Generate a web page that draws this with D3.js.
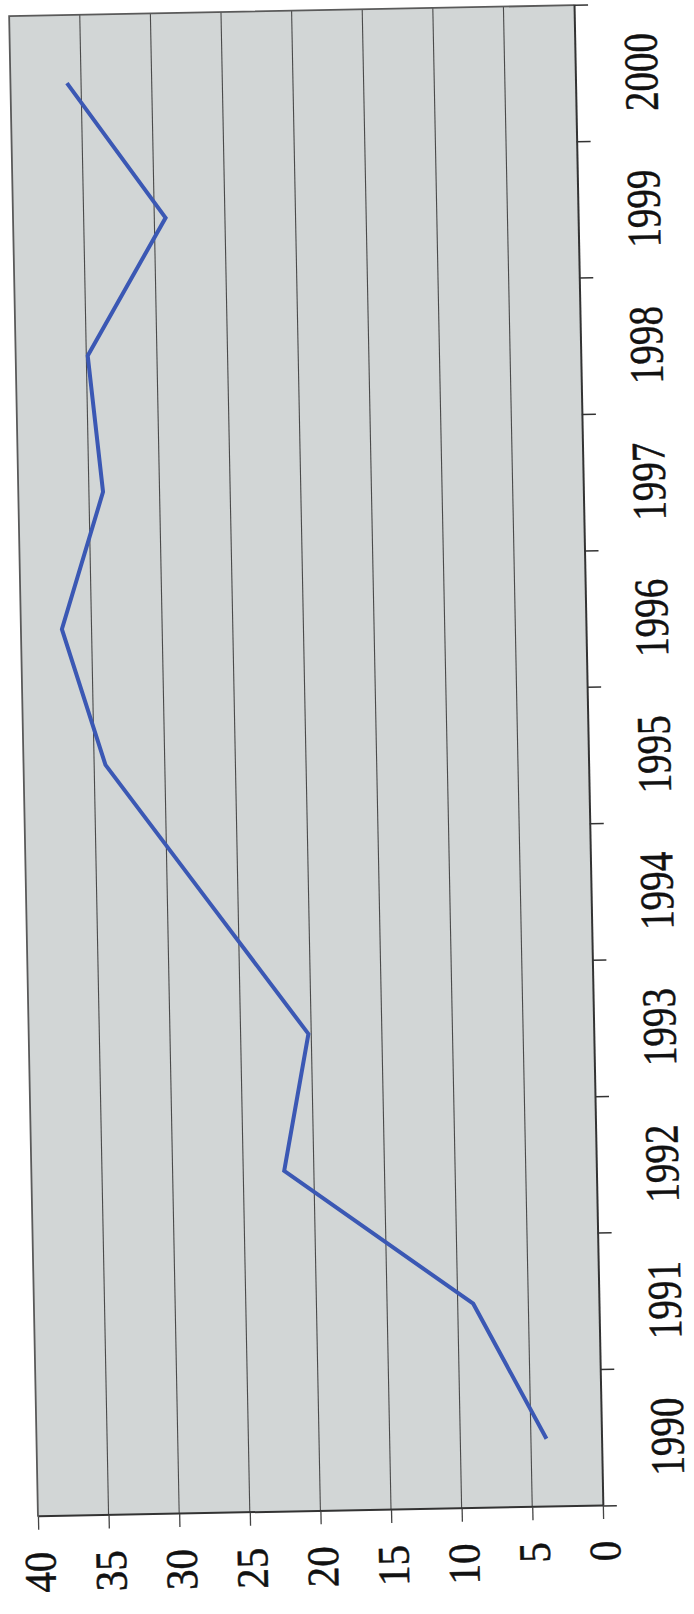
<!DOCTYPE html>
<html>
<head>
<meta charset="utf-8">
<script src="https://cdn.jsdelivr.net/npm/d3@7"></script>
<style>
  html, body { margin: 0; padding: 0; background: #fff; }
  svg { display: block; }
  .lbl { font-family: "Liberation Serif", Tinos, "Times New Roman", Times, "Nimbus Roman", "Noto Serif", "DejaVu Serif", FreeSerif, serif; }
</style>
</head>
<body>
<svg id="chart" width="694" height="1614"></svg>
<script>
// Yearly series, plotted as a line over a category axis
const years = ["1990", "1991", "1992", "1993", "1994", "1995", "1996", "1997", "1998", "1999", "2000"];
const values = [3.9, 8.9, 22.1, 20.2, 27.2, 34.2, 37.1, 34.0, 34.9, 29.2, 36.0];
const valueTicks = [0, 5, 10, 15, 20, 25, 30, 35, 40];

const svg = d3.select("#chart");

// The chart sits on its side on the page, with a slight tilt
const cx = 306, cy = 761;           // centre of plot area on the page
const plotAcross = 565;             // value direction (page horizontal)
const plotAlong = 1501;             // category direction (page vertical)
const tilt = -1.1;

const page = svg.append("g")
  .attr("transform", `rotate(${tilt} ${cx} ${cy})`);

// Local frame: x runs along the years, y across the values
const g = page.append("g")
  .attr("transform", `translate(${cx - plotAcross / 2},${cy + plotAlong / 2}) rotate(-90)`);

const x = d3.scaleBand().domain(years).range([0, plotAlong]).padding(0);
const y = d3.scaleLinear().domain([0, 40]).range([plotAcross, 0]);

// Plot area fill
g.append("rect")
  .attr("x", 0).attr("y", 0)
  .attr("width", plotAlong).attr("height", plotAcross)
  .attr("fill", "#d2d6d6");

// Horizontal gridlines of the value axis
g.append("g")
  .selectAll("line")
  .data(valueTicks.filter(v => v > 0 && v < 40))
  .join("line")
  .attr("x1", 0).attr("x2", plotAlong)
  .attr("y1", d => y(d)).attr("y2", d => y(d))
  .attr("stroke", "#4a4a4a")
  .attr("stroke-width", 1.1);

// Plot-area border on the far sides
g.append("path")
  .attr("d", `M0,${y(40)}H${plotAlong}V${y(0)}`)
  .attr("fill", "none")
  .attr("stroke", "#5a5a5a")
  .attr("stroke-width", 1.8);

// Category axis (years)
const xAxis = g.append("g")
  .attr("transform", `translate(0,${plotAcross})`)
  .call(d3.axisBottom(x).tickSize(0).tickSizeOuter(0));
xAxis.attr("font-family", null);
xAxis.select(".domain").attr("stroke", "#333").attr("stroke-width", 2);
xAxis.selectAll("text")
  .attr("class", "lbl")
  .attr("y", 65)
  .attr("dy", "0.35em")
  .attr("font-size", 48)
  .attr("fill", "#111")
  .attr("stroke", "#111")
  .attr("stroke-width", 0.5)
  .attr("textLength", d => String(d).length * 19.5)
  .attr("lengthAdjust", "spacingAndGlyphs");

// Tick marks at category boundaries
const bounds = years.map(d => x(d)).concat([x(years[years.length - 1]) + x.bandwidth()]);
g.append("g")
  .selectAll("line")
  .data(bounds)
  .join("line")
  .attr("x1", d => d).attr("x2", d => d)
  .attr("y1", plotAcross).attr("y2", plotAcross + 14)
  .attr("stroke", "#333")
  .attr("stroke-width", 1.5);

// Value axis
const yAxis = g.append("g")
  .call(d3.axisLeft(y).tickValues(valueTicks).tickSize(13).tickSizeOuter(0).tickPadding(22));
yAxis.attr("font-family", null);
yAxis.select(".domain").attr("stroke", "#333").attr("stroke-width", 2);
yAxis.selectAll(".tick line").attr("stroke", "#444").attr("stroke-width", 1.3);
yAxis.selectAll("text")
  .attr("class", "lbl")
  .attr("dy", "0.36em")
  .attr("font-size", 45)
  .attr("fill", "#111")
  .attr("stroke", "#111")
  .attr("stroke-width", 0.5)
  .attr("textLength", d => String(d).length * 20.5)
  .attr("lengthAdjust", "spacingAndGlyphs");

// Data line
const series = years.map((yr, i) => ({ year: yr, value: values[i] }));
const line = d3.line()
  .x(d => x(d.year) + x.bandwidth() / 2)
  .y(d => y(d.value));

g.append("path")
  .datum(series)
  .attr("d", line)
  .attr("fill", "none")
  .attr("stroke", "#3b58b4")
  .attr("stroke-width", 4)
  .attr("stroke-linejoin", "miter");
</script>
</body>
</html>
